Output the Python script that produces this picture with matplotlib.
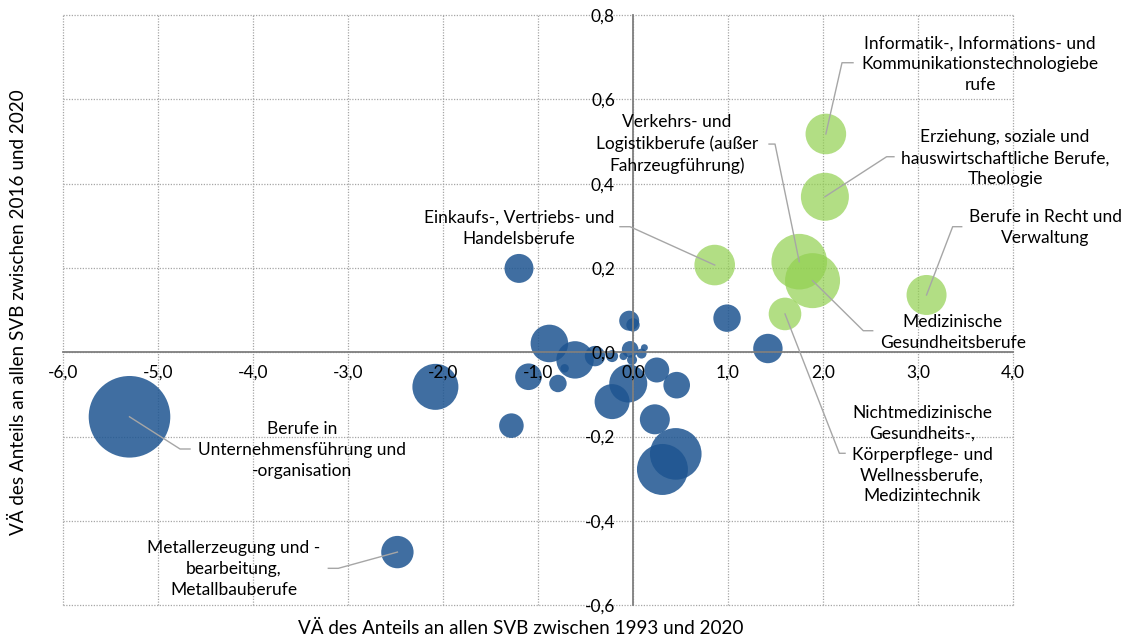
import matplotlib
matplotlib.use("Agg")
import matplotlib.pyplot as plt
from matplotlib.ticker import FuncFormatter

plt.rcParams['font.family'] = ['Lato', 'DejaVu Sans']

# ---- data: blue bubbles (occupations with declining share) ----
blue_x = [-5.30, -2.08, -2.48, -1.20, -1.28, -0.88, -0.61, -0.72, -1.10, -0.79,
          -0.40, -0.22, -0.04, 0.00, -0.03, -0.10, 0.09, 0.12, -0.01, -0.05,
          0.25, 0.46, -0.22, 0.23, 0.45, 0.31, 0.99, 1.42]
blue_y = [-0.153, -0.082, -0.474, 0.199, -0.174, 0.021, -0.018, -0.038, -0.058, -0.074,
          -0.009, -0.009, 0.075, 0.065, 0.007, -0.009, -0.003, 0.011, -0.018, -0.074,
          -0.042, -0.078, -0.117, -0.159, -0.241, -0.278, 0.081, 0.009]
blue_size = [1665, 529, 262, 210, 151, 353, 350, 18, 177, 76,
             104, 36, 100, 45, 69, 16, 25, 12, 25, 361,
             156, 177, 306, 225, 666, 650, 188, 216]

# ---- data: green bubbles (occupations with growing share) ----
green_x = [0.86, 1.75, 1.89, 1.60, 3.09, 2.02, 2.03]
green_y = [0.207, 0.215, 0.170, 0.091, 0.136, 0.369, 0.518]
green_size = [412, 773, 756, 266, 400, 576, 412]

# ---- labels ----
label_texts = [
    "Informatik-, Informations- und\nKommunikationstechnologiebe\nrufe",
    "Erziehung, soziale und\nhauswirtschaftliche Berufe,\nTheologie",
    "Berufe in Recht und\nVerwaltung",
    "Medizinische\nGesundheitsberufe",
    "Nichtmedizinische\nGesundheits-,\nKörperpflege- und\nWellnessberufe,\nMedizintechnik",
    "Verkehrs- und\nLogistikberufe (außer\nFahrzeugführung)",
    "Einkaufs-, Vertriebs- und\nHandelsberufe",
    "Berufe in\nUnternehmensführung und\n-organisation",
    "Metallerzeugung und -\nbearbeitung,\nMetallbauberufe",
]
# which bubble each label points to
label_targets = [("g", 6), ("g", 5), ("g", 4), ("g", 2), ("g", 3), ("g", 1), ("g", 0), ("b", 0), ("b", 2)]

x_ticks = [-6, -5, -4, -3, -2, -1, 0, 1, 2, 3, 4]
y_ticks = [-0.6, -0.4, -0.2, 0.0, 0.2, 0.4, 0.6, 0.8]
x_title = "VÄ des Anteils an allen SVB zwischen 1993 und 2020"
y_title = "VÄ des Anteils an allen SVB zwischen 2016 und 2020"

# ---- layout (label positions and leader elbows) ----
label_pos = [(3.653, 0.683), (3.916, 0.460), (4.337, 0.295), (3.365, 0.048),
             (3.042, -0.2425), (0.46, 0.494), (-1.20, 0.294), (-3.484, -0.231), (-4.20, -0.515)]
label_elbow = [((2.316, 0.687), (2.20, 0.687)),
               ((2.747, 0.464), (2.670, 0.464)),
               ((3.46, 0.298), (3.365, 0.298)),
               ((2.523, 0.0512), (2.424, 0.0512)),
               ((2.232, -0.2396), (2.172, -0.2396)),
               ((1.432, 0.494), (1.495, 0.494)),
               ((-0.137, 0.298), (-0.0316, 0.298)),
               ((-4.663, -0.2294), (-4.768, -0.2294)),
               ((-3.207, -0.5125), (-3.102, -0.5125))]

W, H, DPI = 1126, 641, 100
fig = plt.figure(figsize=(W / DPI, H / DPI), dpi=DPI)
ax = fig.add_axes([63 / W, 1 - 605.2 / H, (1013 - 63) / W, (605.2 - 15.1) / H])

k = (2 * 0.72) ** 2
ax.scatter(blue_x, blue_y, s=[v * k for v in blue_size], color="#1E5591", alpha=0.85,
           edgecolors="none", zorder=2)
ax.scatter(green_x, green_y, s=[v * k for v in green_size], color="#92D050", alpha=0.7,
           edgecolors="none", zorder=2)

ax.set_xlim(-6, 4)
ax.set_ylim(-0.6, 0.8)
ax.set_xticks(x_ticks)
ax.set_yticks(y_ticks)
fmt1 = FuncFormatter(lambda v, p: f"{v:.1f}".replace(".", ",").replace("-0,0", "0,0"))
ax.xaxis.set_major_formatter(fmt1)
ax.yaxis.set_major_formatter(fmt1)

for sp in ["top", "right"]:
    ax.spines[sp].set_visible(False)
ax.spines["left"].set_position(("data", 0))
ax.spines["bottom"].set_position(("data", 0))
for sp in ["left", "bottom"]:
    ax.spines[sp].set_color("#7F7F7F")
    ax.spines[sp].set_linewidth(1.3)
    ax.spines[sp].set_zorder(3)
ax.tick_params(axis="x", length=0, pad=9, labelsize=12.5, colors="black")
ax.tick_params(axis="y", length=0, pad=13, labelsize=12.5, colors="black")
ax.xaxis.set_zorder(5)
ax.yaxis.set_zorder(5)

# dotted grid (incl. frame) drawn beneath the bubbles
gstyle = dict(linestyle=(0, (1, 1.2)), color="#A6A6A6", linewidth=0.9, zorder=0, clip_on=False)
for v in x_ticks:
    ax.axvline(v, **gstyle)
for v in y_ticks:
    ax.axhline(v, **gstyle)

for txt, (grp, idx), pos, (end, elbow) in zip(label_texts, label_targets, label_pos, label_elbow):
    bx = green_x[idx] if grp == "g" else blue_x[idx]
    by = green_y[idx] if grp == "g" else blue_y[idx]
    ax.plot([end[0], elbow[0], bx], [end[1], elbow[1], by], color="#A6A6A6", lw=1.0,
            zorder=4, clip_on=False)
    ax.text(pos[0], pos[1], txt, ha="center", va="center", fontsize=12.5,
            linespacing=1.38, zorder=6, clip_on=False)

fig.text(521 / W, 1 - 628 / H, x_title, ha="center", va="center", fontsize=13.6)
fig.text(18 / W, 1 - 312 / H, y_title, ha="center", va="center", rotation=90, fontsize=13.6)

fig.savefig("out.png", dpi=DPI)
